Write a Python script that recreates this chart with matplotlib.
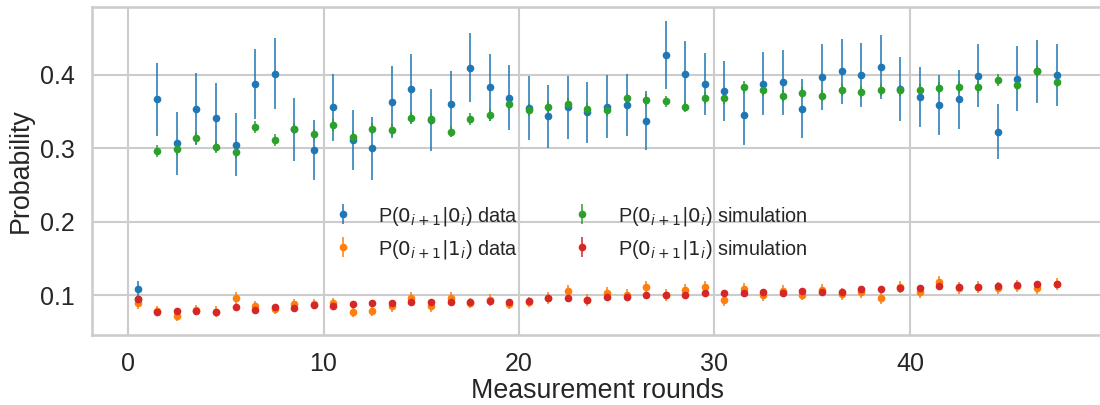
import numpy as np
import matplotlib
matplotlib.use("Agg")
import matplotlib.pyplot as plt
import seaborn as sns

# Measurement rounds (plotted at half-integer positions)
rounds = np.arange(48) + 0.5

# P(0_{i+1}|0_i) measured
p00_data = [0.108, 0.367, 0.307, 0.354, 0.342, 0.305, 0.388, 0.402, 0.326, 0.298,
            0.356, 0.312, 0.300, 0.363, 0.381, 0.339, 0.360, 0.410, 0.383, 0.369,
            0.355, 0.344, 0.356, 0.349, 0.357, 0.359, 0.338, 0.427, 0.402, 0.388,
            0.378, 0.346, 0.388, 0.390, 0.354, 0.397, 0.405, 0.400, 0.411, 0.381,
            0.370, 0.359, 0.367, 0.399, 0.323, 0.395, 0.405, 0.400]
p00_data_err = [0.011, 0.050, 0.043, 0.049, 0.047, 0.043, 0.048, 0.048, 0.043, 0.041,
                0.046, 0.041, 0.043, 0.049, 0.048, 0.042, 0.045, 0.047, 0.045, 0.044,
                0.044, 0.043, 0.043, 0.041, 0.043, 0.042, 0.040, 0.046, 0.044, 0.042,
                0.041, 0.041, 0.043, 0.044, 0.040, 0.045, 0.044, 0.044, 0.044, 0.043,
                0.041, 0.041, 0.040, 0.043, 0.037, 0.044, 0.043, 0.042]

# P(0_{i+1}|1_i) measured
p01_data = [0.089, 0.079, 0.072, 0.080, 0.078, 0.096, 0.085, 0.081, 0.088, 0.088,
            0.090, 0.077, 0.079, 0.085, 0.096, 0.085, 0.097, 0.090, 0.094, 0.088,
            0.091, 0.096, 0.106, 0.094, 0.103, 0.101, 0.111, 0.100, 0.107, 0.111,
            0.093, 0.109, 0.100, 0.106, 0.101, 0.107, 0.102, 0.104, 0.096, 0.111,
            0.104, 0.118, 0.110, 0.111, 0.110, 0.113, 0.110, 0.115]
p01_data_err = [0.008, 0.007, 0.007, 0.007, 0.007, 0.008, 0.007, 0.007, 0.007, 0.007,
                0.007, 0.007, 0.007, 0.007, 0.008, 0.007, 0.008, 0.007, 0.008, 0.007,
                0.007, 0.008, 0.008, 0.008, 0.008, 0.008, 0.008, 0.008, 0.008, 0.008,
                0.008, 0.008, 0.008, 0.008, 0.008, 0.008, 0.008, 0.008, 0.008, 0.008,
                0.008, 0.009, 0.008, 0.008, 0.008, 0.008, 0.008, 0.008]

# P(0_{i+1}|0_i) simulated
p00_sim = [0.095, 0.297, 0.299, 0.314, 0.302, 0.295, 0.329, 0.311, 0.327, 0.319,
           0.332, 0.316, 0.327, 0.325, 0.342, 0.340, 0.323, 0.340, 0.346, 0.361,
           0.352, 0.357, 0.361, 0.354, 0.352, 0.368, 0.366, 0.364, 0.357, 0.369,
           0.369, 0.384, 0.380, 0.371, 0.376, 0.372, 0.380, 0.377, 0.380, 0.379,
           0.380, 0.382, 0.384, 0.384, 0.393, 0.387, 0.405, 0.391]
p00_sim_err = [0.004, 0.008, 0.008, 0.008, 0.008, 0.008, 0.008, 0.008, 0.008, 0.008,
               0.008, 0.008, 0.008, 0.008, 0.008, 0.008, 0.008, 0.008, 0.008, 0.008,
               0.008, 0.008, 0.008, 0.008, 0.008, 0.008, 0.008, 0.008, 0.008, 0.008,
               0.008, 0.008, 0.008, 0.008, 0.008, 0.008, 0.008, 0.008, 0.008, 0.008,
               0.008, 0.008, 0.008, 0.008, 0.008, 0.008, 0.008, 0.008]

# P(0_{i+1}|1_i) simulated
p01_sim = [0.0955, 0.078, 0.079, 0.079, 0.078, 0.084, 0.0805, 0.084, 0.083, 0.0864,
           0.086, 0.088, 0.089, 0.090, 0.0905, 0.091, 0.0905, 0.091, 0.0927, 0.0914,
           0.092, 0.096, 0.097, 0.0937, 0.098, 0.098, 0.100, 0.100, 0.100, 0.103,
           0.103, 0.103, 0.1045, 0.103, 0.106, 0.105, 0.105, 0.109, 0.1086, 0.110,
           0.110, 0.1127, 0.111, 0.112, 0.1127, 0.114, 0.116, 0.1155]
p01_sim_err = [0.003] * 48

sns.set_theme(style="whitegrid", context="talk")
plt.rcParams["font.family"] = ["Liberation Sans", "DejaVu Sans"]

fig = plt.figure(figsize=(11, 4.05), dpi=100)
ax = fig.add_axes([0.0835, 0.1728, 0.9188, 0.8107])

common = dict(fmt=".", markersize=9, elinewidth=1.1, capsize=0)
ax.errorbar(rounds, p00_data, yerr=p00_data_err, color="tab:blue",
            label=r"P($0_{i+1}|0_i$) data", **common)
ax.errorbar(rounds, p01_data, yerr=p01_data_err, color="tab:orange",
            label=r"P($0_{i+1}|1_i$) data", **common)
ax.errorbar(rounds, p00_sim, yerr=p00_sim_err, color="tab:green",
            label=r"P($0_{i+1}|0_i$) simulation", **common)
ax.errorbar(rounds, p01_sim, yerr=p01_sim_err, color="tab:red",
            label=r"P($0_{i+1}|1_i$) simulation", **common)

ax.set_xlim(-1.85, 49.85)
ax.set_ylim(0.046, 0.493)
ax.set_xticks([0, 10, 20, 30, 40])
ax.set_yticks([0.1, 0.2, 0.3, 0.4])
ax.tick_params(axis="x", labelsize=18, pad=3)
ax.tick_params(axis="y", labelsize=18)
ax.set_xlabel("Measurement rounds", fontsize=19.3, labelpad=2)
ax.set_ylabel("Probability", fontsize=19.3)

ax.legend(ncol=2, loc="center", bbox_to_anchor=(0.468, 0.312), frameon=False,
          fontsize=14.3, columnspacing=2.2)

fig.savefig("out.png", dpi=100)
